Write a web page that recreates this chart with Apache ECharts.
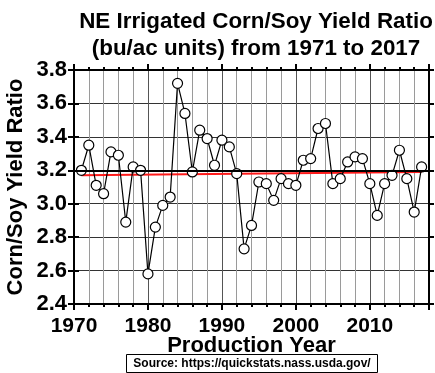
<!DOCTYPE html>
<html>
<head>
<meta charset="utf-8">
<script src="https://cdn.jsdelivr.net/npm/echarts@6/dist/echarts.min.js"></script>
<style>
  html, body { margin: 0; padding: 0; background: #fff; }
  #chart { width: 435px; height: 373px; }
</style>
</head>
<body>
<div id="chart"></div>
<script>
// Production years and NE irrigated corn/soy yield ratios (bu/ac)
const years = [
  1971, 1972, 1973, 1974, 1975, 1976, 1977, 1978, 1979, 1980,
  1981, 1982, 1983, 1984, 1985, 1986, 1987, 1988, 1989, 1990,
  1991, 1992, 1993, 1994, 1995, 1996, 1997, 1998, 1999, 2000,
  2001, 2002, 2003, 2004, 2005, 2006, 2007, 2008, 2009, 2010,
  2011, 2012, 2013, 2014, 2015, 2016, 2017
];
const ratios = [
  3.20, 3.35, 3.11, 3.06, 3.31, 3.29, 2.89, 3.22, 3.20, 2.58,
  2.86, 2.99, 3.04, 3.72, 3.54, 3.19, 3.44, 3.39, 3.23, 3.38,
  3.34, 3.18, 2.73, 2.87, 3.13, 3.12, 3.02, 3.15, 3.12, 3.11,
  3.26, 3.27, 3.45, 3.48, 3.12, 3.15, 3.25, 3.28, 3.27, 3.12,
  2.93, 3.12, 3.17, 3.32, 3.15, 2.95, 3.22
];
// Linear trend endpoints (first and last year)
const trendYears = [1971, 2017];
const trendValues = [3.17, 3.19];
// Horizontal reference level
const referenceLevel = 3.2;
// Axis tick labels
const xTicks = [1970, 1980, 1990, 2000, 2010];
const yTicks = [2.4, 2.6, 2.8, 3.0, 3.2, 3.4, 3.6, 3.8];

const FONT = 'Liberation Sans, Arial, sans-serif';
const TICK = { color: '#000', width: 2 };

const chart = echarts.init(document.getElementById('chart'), null, { renderer: 'canvas' });

chart.setOption({
  animation: false,
  backgroundColor: '#fff',
  grid: { left: 74, right: 6, top: 70, bottom: 69, outerBoundsMode: 'none' },
  title: {
    text: 'NE Irrigated Corn/Soy Yield Ratio\n(bu/ac units) from 1971 to 2017',
    left: 251, top: 3, textAlign: 'center',
    textStyle: { fontFamily: FONT, fontWeight: 'bold', fontSize: 22.4, lineHeight: 27, color: '#000' }
  },
  xAxis: [
    {
      type: 'value', min: 1970, max: 2018, interval: 10, position: 'bottom',
      axisLine: { show: true, lineStyle: { color: '#000', width: 2 } },
      axisTick: { show: true, inside: false, length: 6, lineStyle: TICK },
      minorTick: { show: true, splitNumber: 5, length: 3, lineStyle: TICK },
      axisLabel: {
        show: true, margin: 12, fontFamily: FONT, fontWeight: 'bold', fontSize: 21, color: '#000',
        formatter: v => (xTicks.indexOf(v) >= 0 ? String(v) : '')
      },
      splitLine: { show: true, lineStyle: { color: '#555', width: 1, type: 'solid' } },
      minorSplitLine: { show: true, lineStyle: { color: '#9a9a9a', width: 1, type: 'solid' } },
      name: 'Production Year', nameLocation: 'middle', nameGap: 31, nameMoveOverlap: false,
      nameTextStyle: { fontFamily: FONT, fontWeight: 'bold', fontSize: 22, color: '#000' }
    },
    {
      type: 'value', min: 1970, max: 2018, interval: 10, position: 'top',
      axisLine: { show: true, lineStyle: { color: '#000', width: 2 } },
      axisTick: { show: true, inside: false, length: 6, lineStyle: TICK },
      minorTick: { show: true, splitNumber: 5, length: 3, lineStyle: TICK },
      axisLabel: { show: false },
      splitLine: { show: false }
    }
  ],
  yAxis: [
    {
      type: 'value', min: 2.4, max: 3.8, interval: 0.2, position: 'left',
      axisLine: { show: true, lineStyle: { color: '#000', width: 2 } },
      axisTick: { show: true, inside: false, length: 6, lineStyle: TICK },
      axisLabel: {
        show: true, margin: 7, fontFamily: FONT, fontWeight: 'bold', fontSize: 22, color: '#000',
        formatter: v => v.toFixed(1)
      },
      splitLine: { show: true, lineStyle: { color: '#333', width: 1, type: 'solid' } },
      name: 'Corn/Soy Yield Ratio', nameLocation: 'middle', nameGap: 47, nameRotate: 90,
      nameMoveOverlap: false,
      nameTextStyle: { fontFamily: FONT, fontWeight: 'bold', fontSize: 22, color: '#000' }
    },
    {
      type: 'value', min: 2.4, max: 3.8, interval: 0.2, position: 'right',
      axisLine: { show: true, lineStyle: { color: '#000', width: 2 } },
      axisTick: { show: true, inside: false, length: 5, lineStyle: TICK },
      axisLabel: { show: false },
      splitLine: { show: false }
    },
    {
      // inner half of the left-hand ticks, so they cross the axis line
      type: 'value', min: 2.4, max: 3.8, interval: 0.2, position: 'left', offset: 0,
      axisLine: { show: false },
      axisTick: { show: true, inside: true, length: 5, lineStyle: TICK },
      axisLabel: { show: false },
      splitLine: { show: false }
    }
  ],
  series: [
    {
      name: 'trend', type: 'line', xAxisIndex: 0, yAxisIndex: 0,
      data: trendYears.map((y, i) => [y, trendValues[i]]),
      symbol: 'none', z: 2,
      lineStyle: { color: '#ff1a1a', width: 2 },
      markLine: {
        silent: true, symbol: 'none', label: { show: false },
        lineStyle: { color: '#000', width: 2, type: 'solid' },
        data: [{ yAxis: referenceLevel }]
      }
    },
    {
      name: 'ratio', type: 'line', xAxisIndex: 0, yAxisIndex: 0,
      data: years.map((y, i) => [y, ratios[i]]),
      symbol: 'circle', symbolSize: 10, z: 3,
      lineStyle: { color: '#000', width: 1.2 },
      itemStyle: { color: '#fff', borderColor: '#000', borderWidth: 1.2 }
    }
  ],
  graphic: [
    {
      type: 'group', left: 126, top: 354,
      children: [
        {
          type: 'rect', shape: { x: 0, y: 0, width: 251, height: 18 },
          style: { fill: '#fff', stroke: '#000', lineWidth: 1 }
        },
        {
          type: 'text', x: 125.5, y: 9.5,
          style: {
            text: 'Source: https://quickstats.nass.usda.gov/',
            fontFamily: FONT, fontWeight: 'bold', fontSize: 12, fill: '#000',
            textAlign: 'center', textVerticalAlign: 'middle'
          }
        }
      ]
    }
  ]
});
</script>
</body>
</html>
